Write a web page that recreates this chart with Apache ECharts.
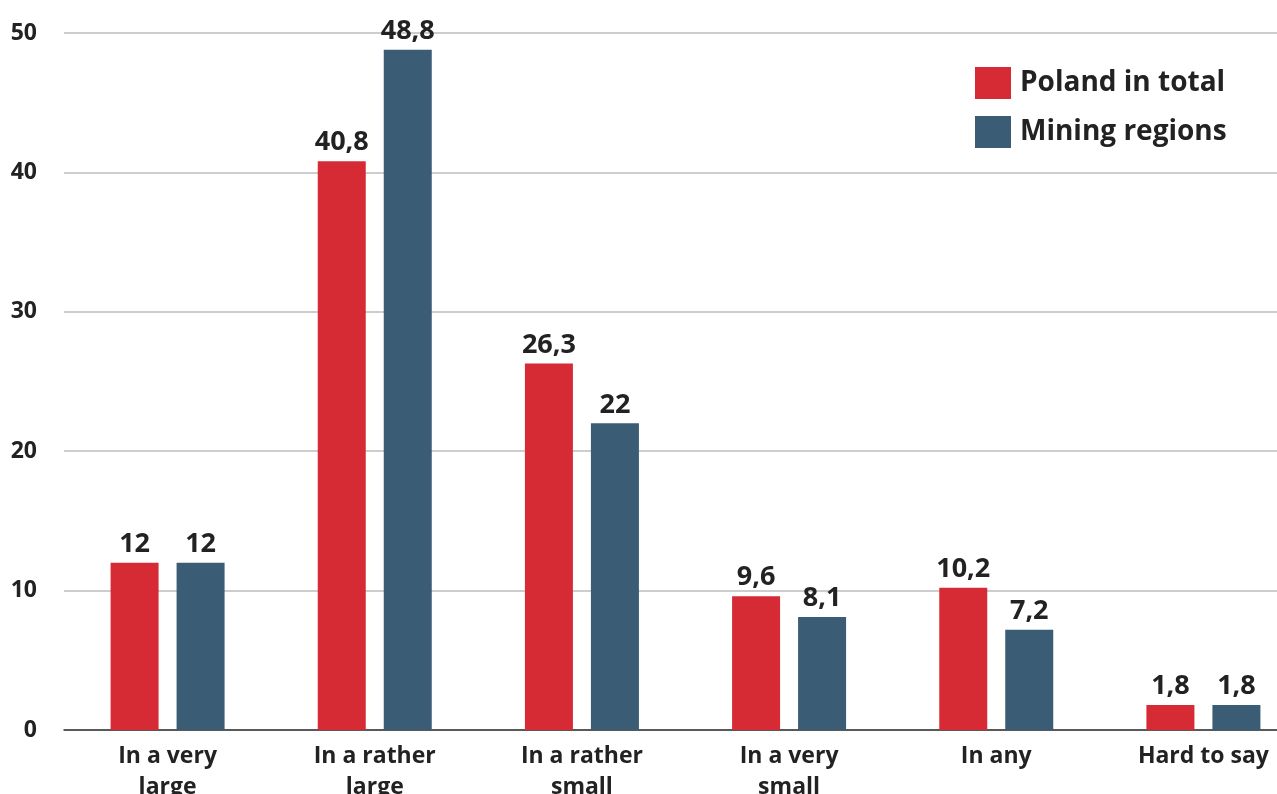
<!DOCTYPE html>
<html>
<head>
<meta charset="utf-8">
<script src="https://cdn.jsdelivr.net/npm/echarts@6/dist/echarts.min.js"></script>
<style>
    html, body { margin: 0; padding: 0; background: #fff; }
    #chart { width: 1277px; height: 794px; }
</style>
</head>
<body>
<div id="chart"></div>
<script>
var categories = ['In a very\nlarge', 'In a rather\nlarge', 'In a rather\nsmall', 'In a very\nsmall', 'In any', 'Hard to say']
var polandTotal = [12, 40.8, 26.3, 9.6, 10.2, 1.8]
var miningRegions = [12, 48.8, 22, 8.1, 7.2, 1.8]
var seriesNames = ['Poland in total', 'Mining regions']

var font = '"Open Sans", "Noto Sans", sans-serif'
var chart = echarts.init(document.getElementById('chart'))

// liczby z przecinkiem jak w oryginale
function comma(p) {
    return String(p.value).replace('.', ',')
}

var barLabel = {
    show: true,
    position: 'top',
    distance: 5,
    formatter: comma,
    fontFamily: font,
    fontSize: 27,
    fontWeight: 'bold',
    color: '#222'
}

chart.setOption({
    animation: false,
    textStyle: { fontFamily: font },
    grid: {
        left: 64,
        top: 33,
        width: 1243,
        height: 697,
        outerBoundsMode: 'none',
        containLabel: false
    },
    legend: {
        data: seriesNames,
        orient: 'vertical',
        left: 970,
        top: 62,
        itemWidth: 36,
        itemHeight: 32,
        itemGap: 17,
        icon: 'rect',
        textStyle: {
            fontFamily: font,
            fontSize: 28,
            fontWeight: 'bold',
            color: '#222',
            padding: [0, 0, 0, 4]
        }
    },
    xAxis: {
        type: 'category',
        data: categories,
        axisLine: { lineStyle: { color: '#333', width: 1.5 } },
        axisTick: { show: false },
        axisLabel: {
            interval: 0,
            margin: 11,
            fontFamily: font,
            fontSize: 23,
            fontWeight: 'bold',
            lineHeight: 31,
            color: '#222'
        }
    },
    yAxis: {
        type: 'value',
        min: 0,
        max: 50,
        interval: 10,
        axisLine: { show: false },
        axisTick: { show: false },
        splitLine: { lineStyle: { color: '#bdbdbd', width: 1.5 } },
        axisLabel: {
            margin: 27,
            fontFamily: font,
            fontSize: 23,
            fontWeight: 'bold',
            color: '#222'
        }
    },
    series: [
        {
            name: seriesNames[0],
            type: 'bar',
            barWidth: 48,
            barGap: '37.5%',
            itemStyle: { color: '#d62b34' },
            label: barLabel,
            data: polandTotal
        },
        {
            name: seriesNames[1],
            type: 'bar',
            barWidth: 48,
            itemStyle: { color: '#3a5c75' },
            label: barLabel,
            data: miningRegions
        }
    ]
})
</script>
</body>
</html>
